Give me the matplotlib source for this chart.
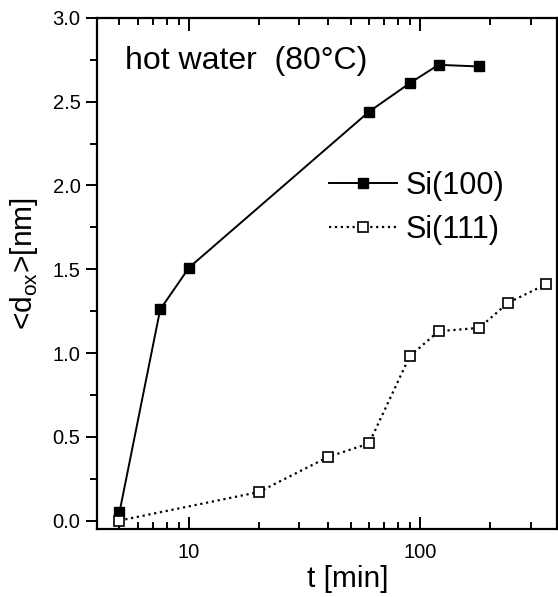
import matplotlib
matplotlib.use("Agg")
import matplotlib.pyplot as plt
from matplotlib.ticker import LogLocator, MultipleLocator, FixedLocator, NullFormatter

plt.rcParams['font.family'] = ['Liberation Sans', 'DejaVu Sans']

# data
t100 = [5, 7.5, 10, 60, 90, 120, 180]
d100 = [0.05, 1.26, 1.51, 2.44, 2.61, 2.72, 2.71]

t111 = [5, 20, 40, 60, 90, 120, 180, 240, 350]
d111 = [0.0, 0.17, 0.38, 0.46, 0.98, 1.13, 1.15, 1.30, 1.41]

fig = plt.figure(figsize=(5.58, 5.97), dpi=100)
ax = fig.add_axes([0.174, 0.114, 0.824, 0.856])

ax.plot(t100, d100, '-', color='black', lw=1.4, marker='s', ms=7,
        mfc='black', mec='black', label='Si(100)')
ax.plot(t111, d111, ':', color='black', lw=1.6, marker='s', ms=7,
        mfc='white', mec='black', mew=1.2, label='Si(111)')

ax.set_xscale('log')
ax.set_xlim(4, 390)
ax.set_ylim(-0.05, 3.0)

ax.xaxis.set_major_locator(FixedLocator([10, 100]))
ax.xaxis.set_major_formatter(matplotlib.ticker.FixedFormatter(['10', '100']))
ax.xaxis.set_minor_locator(LogLocator(base=10, subs=range(2, 10)))
ax.xaxis.set_minor_formatter(NullFormatter())
ax.yaxis.set_major_locator(MultipleLocator(0.5))
ax.yaxis.set_minor_locator(MultipleLocator(0.25))
ax.yaxis.set_major_formatter(matplotlib.ticker.FormatStrFormatter('%.1f'))

for s in ax.spines.values():
    s.set_linewidth(1.6)

ax.tick_params(axis='x', which='both', direction='in', top=True, labelsize=14.5, width=1.4, pad=10)
ax.tick_params(axis='x', which='major', length=9)
ax.tick_params(axis='x', which='minor', length=5)
ax.tick_params(axis='y', which='both', direction='out', labelsize=14.5, width=1.4, pad=4)
ax.tick_params(axis='y', which='major', length=8)
ax.tick_params(axis='y', which='minor', length=5)

ax.set_xlabel('t [min]', fontsize=21.5)
ax.set_ylabel(r'<d$_{\mathregular{ox}}$>[nm]', fontsize=21.5)
ax.xaxis.set_label_coords(0.546, -0.07)
ax.yaxis.set_label_coords(-0.124, 0.52)

ax.text(0.06, 0.915, 'hot water  (80°C)', transform=ax.transAxes,
        fontsize=23, va='center', ha='left')

ax.legend(loc='center right', bbox_to_anchor=(0.946, 0.628), frameon=False,
          fontsize=22, handlelength=2.2, handletextpad=0.3, labelspacing=0.45,
          borderaxespad=0.5)

fig.savefig('out.png', dpi=100)
